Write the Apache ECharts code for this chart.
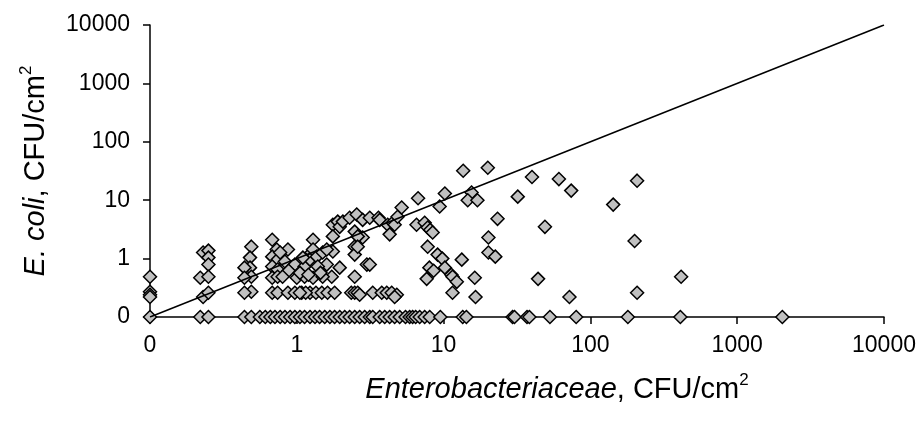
<!DOCTYPE html>
<html><head><meta charset="utf-8">
<script src="https://cdn.jsdelivr.net/npm/echarts@6/dist/echarts.min.js"></script>
<style>html,body{margin:0;padding:0;background:#fff}#c{width:921px;height:424px}</style>
</head><body><div id="c"></div>
<script>
// Enterobacteriaceae (x) and E. coli (y), CFU/cm2; 0 = not detected
const enterobacteriaceae = [
  0,0,0,0,
  0.23,0.25,0.25,0.25,0.22,0.25,0.23,0.25,
  0.49,0.48,0.48,0.44,0.49,0.44,0.49,0.44,
  0.68,0.73,0.68,0.74,0.68,0.74,0.68,0.74,0.68,0.74,
  0.87,0.83,0.97,1.0,0.87,0.97,1.08,1.13,1.13,1.26,1.29,1.23,0.77,1.1,1.29,1.37,1.5,1.76,1.6,1.39,1.73,1.96,1.29,1.5,0.88,1.05,1.2,1.45,0.8,1.6,
  1.76,1.9,1.96,2.06,2.29,2.56,2.81,3.14,3.6,3.67,4.16,4.5,4.64,4.86,5.18,6.7,
  1.76,2.48,2.81,2.6,2.48,2.48,4.29,2.6,3.0,2.48,3.14,
  1.23,1.35,1.48,1.62,1.81,2.35,2.48,2.6,3.29,3.79,4.1,4.43,1.15,1.05,2.68,4.8,4.64,
  10.2,9.4,13.6,20,15.5,14.6,17,32,40,61,74,
  6.54,7.43,7.79,8.1,8.42,7.79,9.1,9.8,
  8.0,8.55,7.67,10.2,11.3,11.5,12.3,11.5,13.3,16.3,16.5,
  20.2,20.2,22.5,23.3,49,44,72,
  208,143,200,415,208,
  0,0.22,0.25,0.44,0.49,0.56,0.61,0.66,0.71,0.77,0.83,0.90,0.97,1.05,1.13,1.23,1.33,1.43,1.55,1.68,1.81,1.96,2.12,2.29,2.48,2.68,2.9,3.14,3.29,3.67,3.97,4.29,4.64,5.02,5.5,5.87,6.15,6.45,6.87,7.43,8.04,9.5,13.5,14.3,29.5,30.4,37,38.4,53,80,180,410,2030
];
const eColi = [
  0.49,0.27,0.24,0.22,
  1.27,1.37,1.04,0.79,0.47,0.49,0.22,0.26,
  1.6,1.04,0.7,0.7,0.49,0.47,0.27,0.26,
  2.1,1.43,1.08,0.96,0.73,0.65,0.47,0.49,0.26,0.26,
  1.43,0.89,0.79,0.47,0.26,0.26,0.26,0.49,0.73,1.27,2.1,0.96,1.27,1.04,1.43,1.08,1.27,1.32,0.79,0.73,0.49,0.7,0.47,0.49,0.62,0.57,0.53,0.57,0.49,1.43,
  3.8,4.3,3.5,4.3,5.0,5.7,4.6,5.0,5.0,4.6,3.8,4.1,3.8,5.2,7.5,10.8,
  2.4,2.9,2.3,2.4,1.6,1.17,2.6,1.6,0.79,0.49,0.79,
  0.26,0.26,0.26,0.26,0.26,0.26,0.26,0.26,0.26,0.26,0.26,0.26,0.26,0.26,0.24,0.24,0.22,
  13,7.8,32,36,13.5,10,10,11.5,25,23,14.6,
  3.8,4.1,3.4,3.1,2.8,1.6,1.17,1.0,
  0.7,0.62,0.45,0.7,0.53,0.49,0.4,0.26,0.96,0.47,0.22,
  2.3,1.27,1.08,4.8,3.5,0.45,0.22,
  21.6,8.4,2.0,0.49,0.26,
  0,0,0,0,0,0,0,0,0,0,0,0,0,0,0,0,0,0,0,0,0,0,0,0,0,0,0,0,0,0,0,0,0,0,0,0,0,0,0,0,0,0,0,0,0,0,0,0,0,0,0,0,0
];
// tick labels of both axes (0 is drawn one decade below 1)
const tickValues = [0, 1, 10, 100, 1000, 10000];
const tickLabels = ['0', '1', '10', '100', '1000', '10000'];
// 1:1 reference line
const refLine = [0, 10000];
const ZERO_POS = 0.1;

const pos = v => (v === 0 ? ZERO_POS : v);
const points = enterobacteriaceae.map((x, i) => [pos(x), pos(eColi[i])]);
const fmt = v => {
  let best = 0, d = Infinity;
  tickValues.forEach((t, i) => { const dd = Math.abs(Math.log10(pos(t)) - Math.log10(v)); if (dd < d) { d = dd; best = i; } });
  return tickLabels[best];
};
const FONT = 'Liberation Sans, Arial, sans-serif';
const axisCommon = {
  type: 'log', logBase: 10, min: pos(tickValues[0]), max: tickValues[tickValues.length - 1],
  splitNumber: 5,
  axisLine: { show: true, lineStyle: { color: '#000', width: 1.5 } },
  axisTick: { show: true, inside: false, length: 7, lineStyle: { color: '#000', width: 1.5 } },
  minorTick: { show: false },
  splitLine: { show: false },
  minorSplitLine: { show: false },
  axisLabel: { color: '#000', fontSize: 23, fontFamily: FONT, formatter: fmt, showMinLabel: true, showMaxLabel: true }
};
const titleRich = {
  i: { fontStyle: 'italic', fontSize: 29, fontFamily: FONT, fill: '#000', lineHeight: 33, verticalAlign: 'bottom' },
  n: { fontSize: 29, fontFamily: FONT, fill: '#000', lineHeight: 33, verticalAlign: 'bottom' },
  s: { fontSize: 17, fontFamily: FONT, fill: '#000', lineHeight: 17, verticalAlign: 'top' }
};
const chart = echarts.init(document.getElementById('c'), null, { renderer: 'canvas' });
chart.setOption({
  animation: false,
  backgroundColor: '#fff',
  grid: { left: 150, right: 37, top: 25, bottom: 107, containLabel: false, outerBoundsMode: 'none' },
  xAxis: Object.assign({}, axisCommon, { axisLabel: Object.assign({}, axisCommon.axisLabel, { margin: 17 }) }),
  yAxis: Object.assign({}, axisCommon, { axisLabel: Object.assign({}, axisCommon.axisLabel, { margin: 20 }) }),
  series: [
    {
      type: 'scatter', data: points, symbol: 'diamond', symbolSize: 13,
      itemStyle: { color: '#c0c0c0', borderColor: '#000', borderWidth: 1.5, opacity: 1 },
      silent: true, z: 2
    },
    {
      type: 'line', data: refLine.map(v => [pos(v), pos(v)]), symbol: 'none',
      lineStyle: { color: '#000', width: 1.5 }, silent: true, z: 3
    }
  ],
  graphic: [
    {
      type: 'text', x: 557, y: 388,
      style: { text: '{i|Enterobacteriaceae}{n|, CFU/cm}{s|2}', align: 'center', verticalAlign: 'middle', rich: titleRich }
    },
    {
      type: 'text', x: 34, y: 171, rotation: Math.PI / 2,
      style: { text: '{i|E. coli}{n|, CFU/cm}{s|2}', align: 'center', verticalAlign: 'middle', rich: titleRich }
    }
  ]
});
</script></body></html>
